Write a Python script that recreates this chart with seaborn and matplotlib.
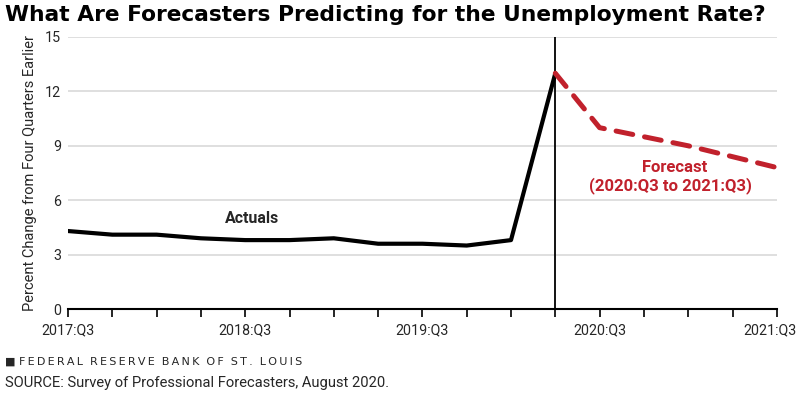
import matplotlib
matplotlib.use("Agg")
import matplotlib.pyplot as plt
import matplotlib.transforms as mtransforms
import seaborn as sns
import pandas as pd

# ---- data ----
quarters = ["2017:Q3", "2017:Q4", "2018:Q1", "2018:Q2", "2018:Q3", "2018:Q4",
            "2019:Q1", "2019:Q2", "2019:Q3", "2019:Q4", "2020:Q1", "2020:Q2",
            "2020:Q3", "2020:Q4", "2021:Q1", "2021:Q2", "2021:Q3"]
actual_values = [4.3, 4.1, 4.1, 3.9, 3.8, 3.8, 3.9, 3.6, 3.6, 3.5, 3.8, 13.0]
forecast_values = [13.0, 10.0, 9.5, 9.0, 8.4, 7.8]
tick_labels = ["2017:Q3", "2018:Q3", "2019:Q3", "2020:Q3", "2021:Q3"]
y_ticks = [0, 3, 6, 9, 12, 15]

sns.set_theme(style="white")
plt.rcParams['font.family'] = ['Roboto', 'DejaVu Sans']

idx = list(range(len(quarters)))
df_act = pd.DataFrame({"q": idx[:len(actual_values)], "v": actual_values})
f_start = len(actual_values) - 1
df_fc = pd.DataFrame({"q": idx[f_start:f_start + len(forecast_values)], "v": forecast_values})

fig = plt.figure(figsize=(8.0, 3.94), dpi=100)
ax = fig.add_axes([0.085, 0.2157, 0.886, 0.6904])

for y in y_ticks[1:]:
    ax.axhline(y, color="#d9d9d9", lw=1.2, zorder=0)

sns.lineplot(data=df_act, x="q", y="v", ax=ax, color="black", lw=3.0,
             solid_joinstyle="round", solid_capstyle="round", zorder=3)
sns.lineplot(data=df_fc, x="q", y="v", ax=ax, color="#c1212c", lw=3.6,
             dashes=False, zorder=3)
ax.lines[-1].set_dashes([3.4, 2.4])
ax.lines[-1].set_dash_capstyle("round")

ax.axvline(f_start, color="black", lw=1.3, zorder=2)

ax.set_xlim(0, len(quarters) - 1)
ax.set_ylim(0, 15)
ax.set_xticks(idx)
ax.set_xticklabels([q if q in tick_labels else "" for q in quarters])
ax.set_yticks(y_ticks)
ax.set_xlabel("")
ax.set_ylabel("Percent Change from Four Quarters Earlier", fontsize=10.5, labelpad=6)

for s in ["top", "right", "left"]:
    ax.spines[s].set_visible(False)
ax.spines["bottom"].set_color("black")
ax.spines["bottom"].set_linewidth(1.5)
ax.tick_params(axis="x", direction="out", length=5.5, width=1.2, color="black",
               labelsize=10.3, pad=4.5, bottom=True)
ax.tick_params(axis="y", length=0, labelsize=10.3, pad=5)

# shift last label so it fits
lbls = ax.get_xticklabels()
offset = mtransforms.ScaledTranslation(-7 / 100, 0, fig.dpi_scale_trans)
lbls[-1].set_transform(lbls[-1].get_transform() + offset)

ax.text(4.15, 5.0, "Actuals", fontsize=11.5, fontweight="bold", ha="center", va="center")
ax.text(13.7, 7.8, "Forecast", fontsize=12, fontweight="bold", ha="center",
        va="center", color="#c1212c")
ax.text(13.6, 6.8, "(2020:Q3 to 2021:Q3)", fontsize=12, fontweight="bold",
        ha="center", va="center", color="#c1212c")

fig.text(0.006, 0.962, "What Are Forecasters Predicting for the Unemployment Rate?",
         fontsize=15.7, fontweight="bold", ha="left", va="center", color="black",
         family=['DejaVu Sans'])
footer = "\u2009".join("FEDERAL") + "  " + "\u2009".join("RESERVE") + "  " + \
    "\u2009".join("BANK") + "  " + "\u2009".join("OF") + "  " + "\u2009".join("ST.") + \
    "  " + "\u2009".join("LOUIS")
fig.text(0.006, 0.081, "\u25A0 " + footer,
         fontsize=8.0, ha="left", va="center", family=['DejaVu Sans'])
fig.text(0.006, 0.028, "SOURCE: Survey of Professional Forecasters, August 2020.",
         fontsize=10.6, ha="left", va="center")

fig.savefig("out.png", dpi=100)
